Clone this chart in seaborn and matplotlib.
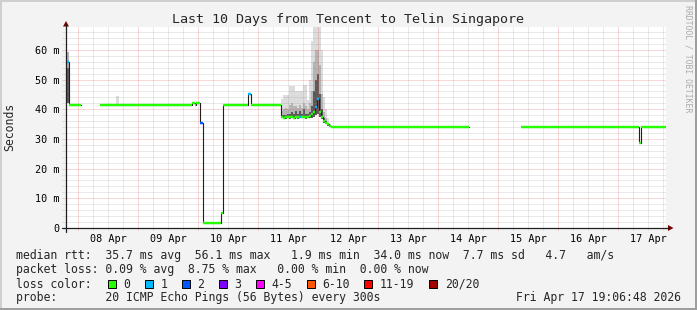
import numpy as np
import pandas as pd
import matplotlib
matplotlib.use("Agg")
import matplotlib.pyplot as plt
from matplotlib.patches import Rectangle, Polygon
from matplotlib.lines import Line2D
import seaborn as sns

# ---------------- data (x = day of April, integer = midnight) ----------------
seg_start  = [7.797, 7.840, 8.370, 9.895, 9.945, 9.960, 10.028, 10.083, 10.373, 10.417, 10.833, 10.873, 12.212, 15.378, 17.340, 17.373]
seg_end    = [7.840, 8.045, 9.895, 9.945, 9.960, 10.028, 10.083, 10.373, 10.417, 10.833, 10.873, 11.378, 14.512, 17.340, 17.373, 17.797]
seg_median = [56.0, 41.5, 41.5, 42.0, 41.5, 42.0, 35.3, 1.8, 4.9, 41.5, 45.0, 41.5, 34.0, 34.0, 28.5, 34.0]
seg_loss   = [1, 0, 0, 0, 0, 0, 2, 0, 0, 0, 1, 0, 0, 0, 0, 0]

noisy_start  = [11.378, 11.412, 11.445, 11.478, 11.512, 11.545, 11.578, 11.612, 11.645, 11.678,
                11.712, 11.745, 11.778, 11.812, 11.845, 11.878, 11.912, 11.945, 11.978, 12.012,
                12.045, 12.078, 12.112, 12.145, 12.178]
noisy_median = [37.4, 37.0, 37.3, 37.5, 37.3, 37.5, 37.2, 37.5, 37.3, 37.5,
                37.4, 37.5, 37.3, 37.5, 37.8, 38.5, 39.0, 40.7, 43.5, 39.2,
                37.5, 36.0, 35.5, 35.0, 34.2]
noisy_loss   = [0, 0, 0, 0, 0, 0, 0, 0, 0, 1,
                0, 0, 0, 0, 0, 0, 0, 1, 1, 0,
                0, 0, 0, 0, 0]
noisy_min    = [36.9, 36.6, 36.8, 37.0, 36.8, 37.0, 36.8, 37.0, 36.8, 37.0,
                36.9, 37.0, 36.8, 37.0, 37.0, 37.2, 37.5, 38.0, 38.5, 37.5,
                36.8, 35.5, 35.0, 34.5, 34.0]
noisy_max    = [43.5, 44.8, 44.8, 44.8, 47.9, 47.9, 47.9, 46.3, 46.3, 46.3,
                46.3, 48.0, 48.0, 43.0, 50.0, 63.0, 68.0, 68.0, 68.0, 68.0,
                60.0, 44.0, 40.0, 37.0, 35.0]
noisy_mid    = [39.5, 40.0, 40.5, 40.0, 41.5, 42.0, 41.0, 41.0, 40.5, 41.5,
                40.5, 42.0, 41.0, 40.0, 42.0, 46.0, 56.0, 60.0, 60.0, 55.0,
                45.0, 39.0, 37.0, 35.5, 34.5]
noisy_core   = [38.2, 38.0, 38.2, 38.5, 38.5, 39.0, 38.5, 39.5, 38.5, 39.5,
                38.5, 40.0, 38.5, 38.5, 39.0, 41.0, 46.0, 50.0, 52.0, 45.0,
                40.0, 37.0, 36.0, 35.2, 34.3]
noisy_last_end = 12.212

extra_start = [7.797, 8.628]
extra_end   = [7.840, 8.683]
extra_min   = [42.0, 41.5]
extra_max   = [59.4, 44.5]
extra_mid   = [59.4, 41.5]
extra_core  = [53.8, 41.5]

loss_labels = ["0", "1", "2", "3", "4-5", "6-10", "11-19", "20/20"]
loss_colors = ["#26ff00", "#00b8ff", "#0059ff", "#7e00ff", "#ff00ff", "#ff5500", "#ff0000", "#a10000"]

day_numbers = [8, 9, 10, 11, 12, 13, 14, 15, 16, 17]
y_ticks = [0, 10, 20, 30, 40, 50, 60]
y_tick_labels = ["0", "10 m", "20 m", "30 m", "40 m", "50 m", "60 m"]

title = "Last 10 Days from Tencent to Telin Singapore"
legend_rtt = "median rtt:  35.7 ms avg  56.1 ms max   1.9 ms min  34.0 ms now  7.7 ms sd   4.7   am/s"
legend_loss = "packet loss: 0.09 % avg  8.75 % max   0.00 % min  0.00 % now"
legend_probe = "probe:       20 ICMP Echo Pings (56 Bytes) every 300s"
stamp = "Fri Apr 17 19:06:48 2026"

x_range = (7.7964, 17.7964)
y_range = (0, 67.7)

# ---------------- figure ----------------
sns.set_style("white")
plt.rcParams["font.family"] = ["DejaVu Sans Mono"]
W, H = 697, 310
fig = plt.figure(figsize=(W / 100, H / 100), dpi=100)
fig.patch.set_facecolor("#f3f3f3")

def fx(p):
    return p / W

def fy(p):
    return 1 - p / H

# frame shading
fig.add_artist(Rectangle((0, fy(2)), 1, 2 / H, transform=fig.transFigure, color="#cfcfcf", lw=0))
fig.add_artist(Rectangle((0, 0), 2 / W, 1, transform=fig.transFigure, color="#cfcfcf", lw=0))
fig.add_artist(Rectangle((0, 0), 1, 2 / H, transform=fig.transFigure, color="#9e9e9e", lw=0))
fig.add_artist(Rectangle((1 - 2 / W, 0), 2 / W, 1, transform=fig.transFigure, color="#9e9e9e", lw=0))

L, R, T, B = 66, 666, 27, 228
ax = fig.add_axes([fx(L), fy(B), (R - L) / W, (B - T) / H])
ax.set_facecolor("white")
for s in ax.spines.values():
    s.set_visible(False)
ax.set_xlim(*x_range)
ax.set_ylim(*y_range)

# smoke
n_end = noisy_start[1:] + [noisy_last_end]
sm_start = noisy_start + extra_start
sm_end = n_end + extra_end
sm_min = noisy_min + extra_min
sm_max = noisy_max + extra_max
sm_mid = noisy_mid + extra_mid
sm_core = noisy_core + extra_core
widths = [e - s for s, e in zip(sm_start, sm_end)]
for top, col in [(sm_max, "#dcdcdc"), (sm_mid, "#b4b4b4"), (sm_core, "#5a5a5a")]:
    hts = [t - b for t, b in zip(top, sm_min)]
    ax.bar(sm_start, hts, bottom=sm_min, width=widths, align="edge", color=col,
           linewidth=0, zorder=1, antialiased=False)

# grid (manual so that labels can sit at noon)
xform = ax.get_xaxis_transform()
yform = ax.get_yaxis_transform()
g_minor = dict(color=(0.56, 0.56, 0.56, 0.38), lw=0.72, linestyles=(0, (1, 1)), zorder=1.5)
g_major = dict(color=(0.87, 0.31, 0.31, 0.45), lw=0.72, linestyles=(0, (1, 1)), zorder=1.6)
quarter = np.arange(np.ceil(x_range[0] * 4) / 4, x_range[1], 0.25)
minor_x = [q for q in quarter if abs(q - round(q)) > 1e-6]
ax.vlines(minor_x, -0.012, 1, transform=xform, clip_on=False, **g_minor)
ax.vlines(day_numbers, -0.012, 1, transform=xform, clip_on=False, **g_major)
minor_y = [v for v in np.arange(2, y_range[1], 2) if v % 10 != 0]
ax.hlines(minor_y, -0.006, 1, transform=yform, clip_on=False, **g_minor)
ax.hlines([v for v in y_ticks if v > 0], -0.006, 1, transform=yform, clip_on=False, **g_major)

# median: black connector line per contiguous run
steps = sorted(list(zip(seg_start, seg_end, seg_median, seg_loss)) +
               list(zip(noisy_start, n_end, noisy_median, noisy_loss)))
runs, cur = [], [steps[0]]
for st in steps[1:]:
    if abs(st[0] - cur[-1][1]) > 1e-6:
        runs.append(cur)
        cur = [st]
    else:
        cur.append(st)
runs.append(cur)
for run in runs:
    xs = [r[0] for r in run] + [run[-1][1]]
    ys = [r[2] for r in run] + [run[-1][2]]
    df = pd.DataFrame({"day": xs, "median": ys})
    sns.lineplot(data=df, x="day", y="median", ax=ax, estimator=None, sort=False,
                 drawstyle="steps-post", color="#202020", lw=0.8, zorder=2)

# coloured median by loss
ax.hlines([s[2] for s in steps], [s[0] for s in steps], [s[1] for s in steps],
          colors=[loss_colors[s[3]] for s in steps], lw=1.7, zorder=3)

ax.set_xlabel("")
ax.set_ylabel("")
ax.set_xticks([d + 0.5 for d in day_numbers])
ax.set_xticklabels(["%02d Apr" % d for d in day_numbers])
ax.set_yticks(y_ticks)
ax.set_yticklabels(y_tick_labels)
ax.tick_params(axis="both", length=0, labelsize=7.3, colors="black")
ax.tick_params(axis="x", pad=4)
ax.tick_params(axis="y", pad=5)

# axes lines and arrows
axis_col = "#1f1f1f"
arrow_col = "#800000"
fig.add_artist(Line2D([fx(62), fx(669)], [fy(228), fy(228)], transform=fig.transFigure, color=axis_col, lw=0.9))
fig.add_artist(Line2D([fx(66), fx(66)], [fy(232), fy(24)], transform=fig.transFigure, color=axis_col, lw=0.9))
fig.add_artist(Polygon([[fx(668), fy(225)], [fx(673.5), fy(228)], [fx(668), fy(231)]],
                       closed=True, transform=fig.transFigure, color=arrow_col, lw=0))
fig.add_artist(Polygon([[fx(63), fy(26.5)], [fx(66), fy(21)], [fx(69), fy(26.5)]],
                       closed=True, transform=fig.transFigure, color=arrow_col, lw=0))

# texts
fig.text(fx(348), fy(19), title, ha="center", va="center", fontsize=9.6)
fig.text(fx(10), fy(127), "Seconds", rotation=90, ha="center", va="center", fontsize=8.3)
fig.text(fx(688), fy(59), "RRDTOOL / TOBI OETIKER", rotation=270, ha="center", va="center",
         fontsize=5.9, color="#ababab")

fs = 8.3
fig.text(fx(16), fy(256), legend_rtt, ha="left", va="center", fontsize=fs)
fig.text(fx(16), fy(270), legend_loss, ha="left", va="center", fontsize=fs)
fig.text(fx(16), fy(284), "loss color:", ha="left", va="center", fontsize=fs)
fig.text(fx(16), fy(298), legend_probe, ha="left", va="center", fontsize=fs)
fig.text(fx(681), fy(298), stamp, ha="right", va="center", fontsize=fs)

cw = 6.95
bx = 108.0
for lab, col in zip(loss_labels, loss_colors):
    fig.add_artist(Rectangle((fx(bx), fy(288)), 8 / W, 8.5 / H, transform=fig.transFigure,
                             facecolor=col, edgecolor="black", lw=0.7))
    tx = bx + 15.5
    fig.text(fx(tx), fy(284), lab, ha="left", va="center", fontsize=fs)
    bx = tx + len(lab) * cw + 14.5

fig.savefig("out.png", dpi=100, facecolor=fig.get_facecolor())
